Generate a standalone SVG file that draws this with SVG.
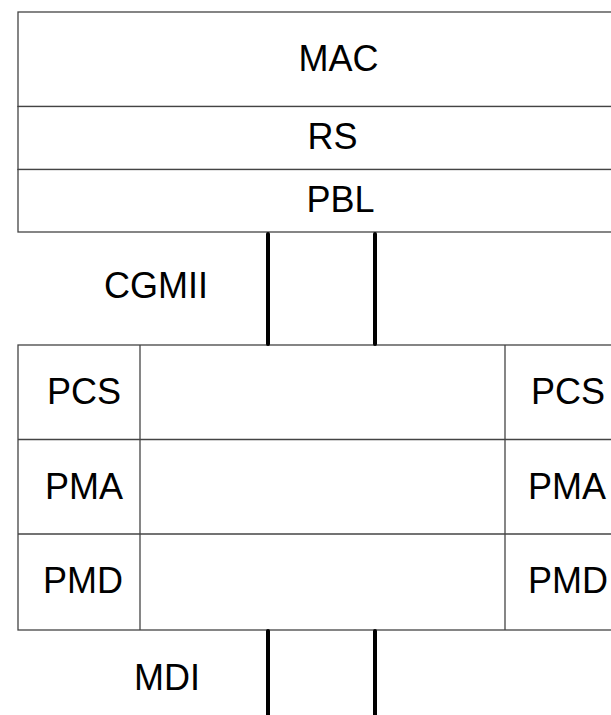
<svg xmlns="http://www.w3.org/2000/svg" width="611" height="715" viewBox="0 0 611 715">
  <style>
    .box { fill: #ffffff; stroke: #444444; stroke-width: 1.3; }
    .sep { stroke: #444444; stroke-width: 1.3; fill: none; }
    .lbl { font-family: "Liberation Sans", Arial, sans-serif; font-size: 36px; fill: #000000; }
    .mid { text-anchor: middle; }
    .link { stroke: #000000; stroke-width: 4; stroke-linecap: round; fill: none; }
  </style>
  <rect width="611" height="715" fill="#ffffff"/>

  <!-- upper stack -->
  <g id="mac">
    <rect class="box" x="18" y="12" width="620" height="94.5"/>
    <text class="lbl mid" x="338.5" y="71">MAC</text>
  </g>
  <g id="rs">
    <rect class="box" x="18" y="106.5" width="620" height="63"/>
    <text class="lbl mid" x="332.5" y="149">RS</text>
  </g>
  <g id="pbl">
    <rect class="box" x="18" y="169.5" width="620" height="62.5"/>
    <text class="lbl mid" x="340.5" y="212">PBL</text>
  </g>

  <g id="cgmii-label">
    <text class="lbl" x="104" y="298">CGMII</text>
  </g>

  <!-- lower stack -->
  <g id="phy">
    <rect class="box" x="18" y="345" width="620" height="285"/>
    <line class="sep" x1="140" y1="345" x2="140" y2="630"/>
    <line class="sep" x1="505" y1="345" x2="505" y2="630"/>
  </g>
  <g id="pcs">
    <line class="sep" x1="18" y1="439.5" x2="611" y2="439.5"/>
    <text class="lbl" x="47" y="404">PCS</text>
    <text class="lbl" x="531" y="404">PCS</text>
  </g>
  <g id="pma">
    <line class="sep" x1="18" y1="534" x2="611" y2="534"/>
    <text class="lbl" x="45" y="499">PMA</text>
    <text class="lbl" x="528" y="499">PMA</text>
  </g>
  <g id="pmd">
    <text class="lbl" x="43" y="593">PMD</text>
    <text class="lbl" x="528" y="593">PMD</text>
  </g>

  <g id="mdi-label">
    <text class="lbl" x="134" y="690">MDI</text>
  </g>

  <!-- interface links -->
  <g id="connectors">
    <line class="link" x1="268" y1="234" x2="268" y2="344"/>
    <line class="link" x1="375" y1="234" x2="375" y2="344"/>
    <line class="link" x1="268" y1="631" x2="268" y2="720"/>
    <line class="link" x1="375" y1="631" x2="375" y2="720"/>
  </g>
</svg>
